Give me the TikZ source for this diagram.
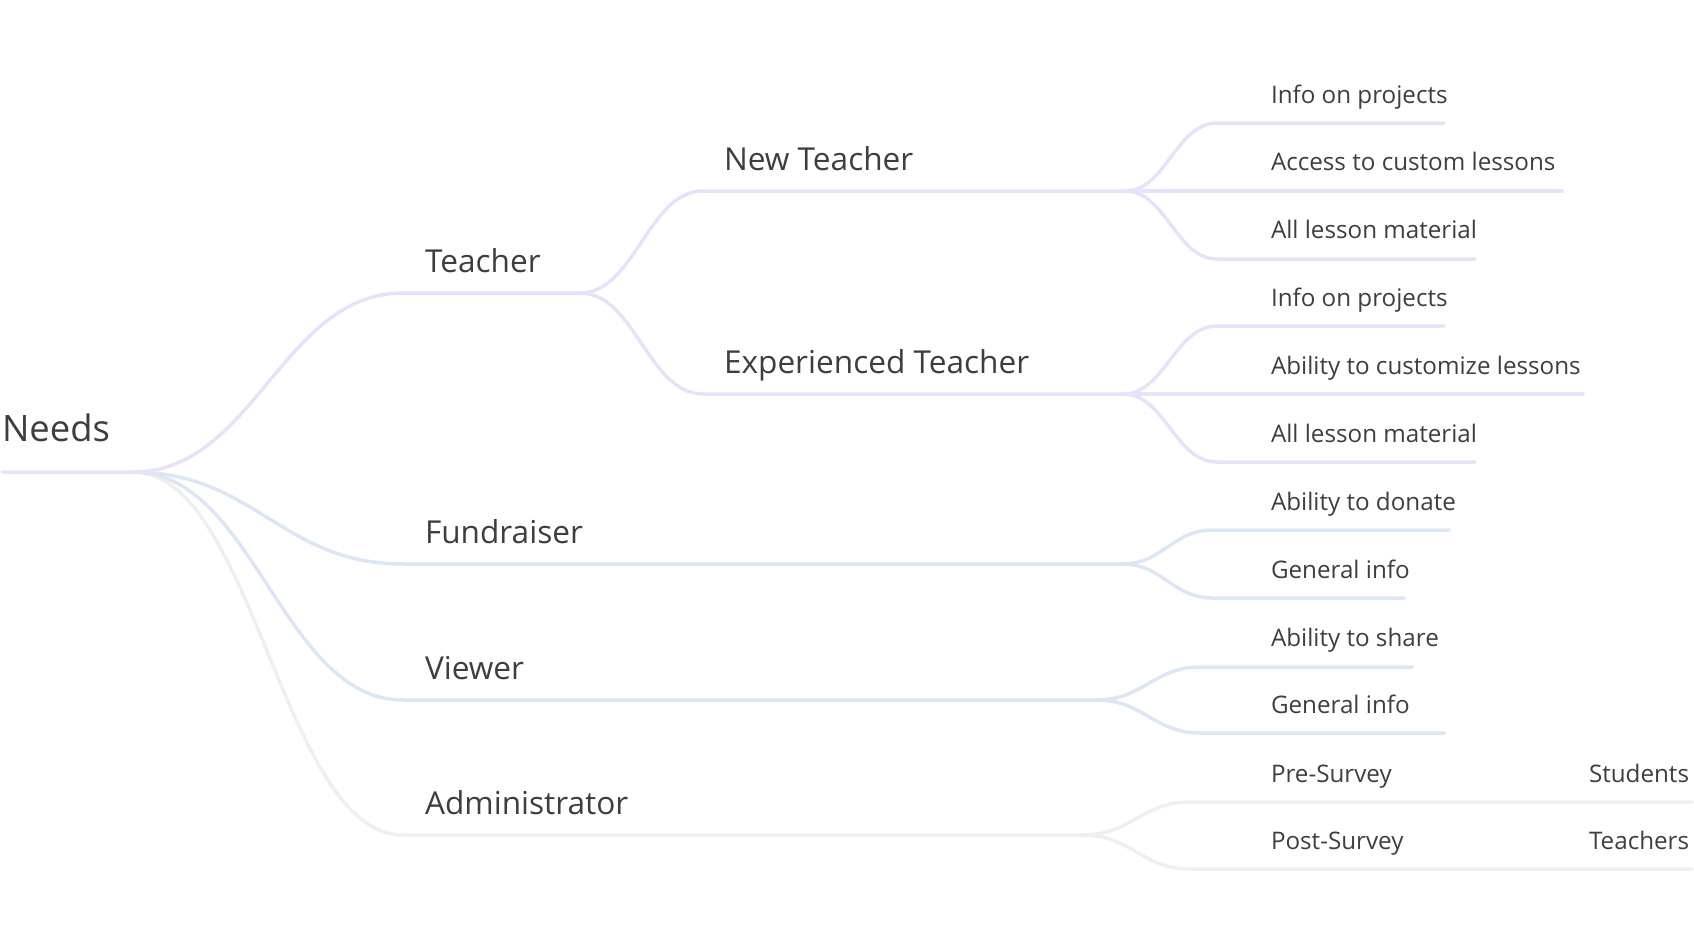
\documentclass[tikz,border=0pt]{standalone}
\usepackage{fontspec}
\setmainfont{Open Sans}
\definecolor{txt}{HTML}{3E3E3E}
\definecolor{lav}{HTML}{E5E2FA}
\definecolor{blu}{HTML}{DCE6F4}
\definecolor{gry}{HTML}{EFEFEF}
\tikzset{
  lbl/.style={anchor=base west, inner sep=0pt, outer sep=0pt, text=txt},
  rootlbl/.style={lbl, font=\fontsize{36.4}{40}\selectfont},
  midlbl/.style={lbl, font=\fontsize{31.6}{34}\selectfont},
  leaflbl/.style={lbl, font=\fontsize{24.2}{28}\selectfont},
  wire/.style={line width=3.5pt, line cap=round},
  lavw/.style={wire, draw=lav},
  bluw/.style={wire, draw=blu},
  gryw/.style={wire, draw=gry},
}
\begin{document}
\begin{tikzpicture}[x=1pt,y=-1pt]
\useasboundingbox (0,0) rectangle (1694,950);

% ---- coordinates ----
\coordinate (needsS) at (2,472);  \coordinate (needsB) at (133,472);
\coordinate (teachS) at (403,293); \coordinate (teachB) at (580,293);
\coordinate (fundS) at (403,564);  \coordinate (fundB) at (1122,564);
\coordinate (viewS) at (403,700);  \coordinate (viewB) at (1097,700);
\coordinate (admS) at (403,835);   \coordinate (admB) at (1083,835);
\coordinate (ntS) at (703,191);    \coordinate (ntB) at (1125,191);
\coordinate (etS) at (703,394);    \coordinate (etB) at (1123,394);
% leaves
\coordinate (l1S) at (1217,123); \coordinate (l1E) at (1444,123);
\coordinate (l2E) at (1562,191);
\coordinate (l3S) at (1217,259); \coordinate (l3E) at (1475,259);
\coordinate (l4S) at (1217,326); \coordinate (l4E) at (1444,326);
\coordinate (l5E) at (1583,394);
\coordinate (l6S) at (1217,462); \coordinate (l6E) at (1475,462);
\coordinate (l7S) at (1213,530); \coordinate (l7E) at (1449,530);
\coordinate (l8S) at (1213,598); \coordinate (l8E) at (1404,598);
\coordinate (l9S) at (1200,667); \coordinate (l9E) at (1412,667);
\coordinate (l10S) at (1200,733); \coordinate (l10E) at (1444,733);
\coordinate (l11S) at (1190,802); \coordinate (l11E) at (1692,802);
\coordinate (l12S) at (1190,869); \coordinate (l12E) at (1692,869);

% ---- connectors (back to front) ----
\draw[gryw] (needsB) .. controls +(121,0) and +(-121,0) .. (admS) -- (admB);
\draw[gryw] (admB) .. controls +(48,0) and +(-48,0) .. (l11S) -- (l11E);
\draw[gryw] (admB) .. controls +(48,0) and +(-48,0) .. (l12S) -- (l12E);

\draw[bluw] (needsB) .. controls +(121,0) and +(-121,0) .. (viewS) -- (viewB);
\draw[bluw] (viewB) .. controls +(46,0) and +(-46,0) .. (l9S) -- (l9E);
\draw[bluw] (viewB) .. controls +(46,0) and +(-46,0) .. (l10S) -- (l10E);

\draw[bluw] (needsB) .. controls +(121,0) and +(-121,0) .. (fundS) -- (fundB);
\draw[bluw] (fundB) .. controls +(41,0) and +(-41,0) .. (l7S) -- (l7E);
\draw[bluw] (fundB) .. controls +(41,0) and +(-41,0) .. (l8S) -- (l8E);

\draw[lavw] (needsS) -- (needsB) .. controls +(121,0) and +(-121,0) .. (teachS) -- (teachB);
\draw[lavw] (teachB) .. controls +(55,0) and +(-55,0) .. (ntS) -- (ntB);
\draw[lavw] (teachB) .. controls +(55,0) and +(-55,0) .. (etS) -- (etB);
\draw[lavw] (ntB) .. controls +(41,0) and +(-41,0) .. (l1S) -- (l1E);
\draw[lavw] (ntB) -- (l2E);
\draw[lavw] (ntB) .. controls +(41,0) and +(-41,0) .. (l3S) -- (l3E);
\draw[lavw] (etB) .. controls +(42,0) and +(-42,0) .. (l4S) -- (l4E);
\draw[lavw] (etB) -- (l5E);
\draw[lavw] (etB) .. controls +(42,0) and +(-42,0) .. (l6S) -- (l6E);

% ---- labels ----
\node[rootlbl] (needs) at (2,441) {Needs};
\node[midlbl] (teacher) at (425,272) {Teacher};
\node[midlbl] (fund) at (425,543) {Fundraiser};
\node[midlbl] (viewer) at (425,679) {Viewer};
\node[midlbl] (admin) at (425,814) {Administrator};
\node[midlbl] (newt) at (724,170) {New Teacher};
\node[midlbl] (expt) at (724,373) {Experienced Teacher};
\node[leaflbl] (a1) at (1271,103) {Info on projects};
\node[leaflbl] (a2) at (1271,170) {Access to custom lessons};
\node[leaflbl] (a3) at (1271,238) {All lesson material};
\node[leaflbl] (b1) at (1271,306) {Info on projects};
\node[leaflbl] (b2) at (1271,374) {Ability to customize lessons};
\node[leaflbl] (b3) at (1271,442) {All lesson material};
\node[leaflbl] (c1) at (1271,510) {Ability to donate};
\node[leaflbl] (c2) at (1271,578) {General info};
\node[leaflbl] (d1) at (1271,646) {Ability to share};
\node[leaflbl] (d2) at (1271,713) {General info};
\node[leaflbl] (e1) at (1271,782) {Pre-Survey};
\node[leaflbl] (e2) at (1271,849) {Post-Survey};
\node[leaflbl] (f1) at (1589,782) {Students};
\node[leaflbl] (f2) at (1589,849) {Teachers};
\end{tikzpicture}
\end{document}
